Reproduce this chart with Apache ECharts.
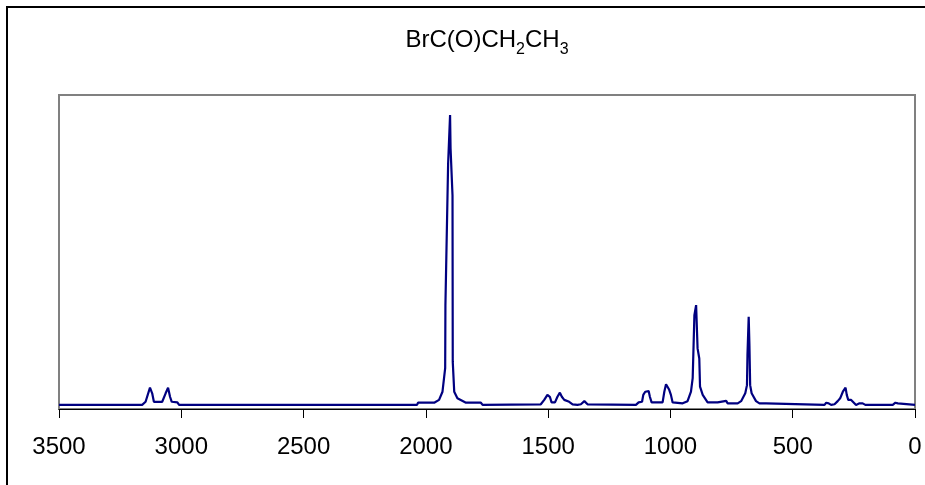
<!DOCTYPE html>
<html>
<head>
<meta charset="utf-8">
<script src="https://cdn.jsdelivr.net/npm/echarts@6/dist/echarts.min.js"></script>
<style>
  html, body { margin: 0; padding: 0; background: #fff; }
  #chart { width: 925px; height: 485px; }
</style>
</head>
<body>
<div id="chart"></div>
<script>
// IR spectrum of propionyl bromide, BrC(O)CH2CH3
const wavenumbers = [
  3500, 3160, 3146, 3128, 3119, 3112, 3078, 3064, 3054, 3046, 3039, 3016, 3009,
  2036, 2032, 1966, 1946, 1932, 1925, 1921, 1920, 1909, 1901, 1899, 1891, 1890,
  1884, 1871, 1836, 1775, 1768,
  1530, 1516, 1503, 1498, 1493, 1486, 1472, 1462, 1452, 1444, 1434, 1414, 1400,
  1380, 1366, 1352, 1339, 1332,
  1141, 1130, 1116, 1111, 1103, 1089, 1084, 1077, 1032, 1025, 1018, 1012, 1005,
  998, 991, 950, 930, 916, 909, 902, 895, 891, 889, 882, 879, 868, 848,
  807, 803, 772, 766, 725, 711, 694, 687, 685, 680, 677, 674, 668, 650, 636,
  609, 602,
  370, 363, 353, 343, 329, 316, 306, 295, 284, 279, 273, 261, 241, 227, 214,
  203, 91, 80, 70, 63, 0
];
const intensity = [
  1.3, 1.3, 2.3, 6.8, 5.0, 2.3, 2.3, 5.0, 6.8, 3.9, 2.3, 2.1, 1.3,
  1.3, 2.0, 2.0, 2.9, 5.5, 10.3, 13.0, 33.0, 78.0, 93.6, 83.0, 68.0, 15.0,
  5.5, 3.4, 2.0, 2.0, 1.3,
  1.5, 2.9, 4.5, 4.7, 3.9, 2.1, 2.1, 3.9, 5.2, 3.9, 2.9, 2.3, 1.5,
  1.3, 1.5, 2.5, 1.5, 1.3,
  1.3, 2.1, 2.3, 4.5, 5.5, 5.7, 3.9, 2.1, 2.1, 5.5, 7.9, 7.1, 6.1,
  4.5, 2.1, 1.8, 2.5, 5.5, 9.8, 29.9, 33.1, 33.1, 19.3, 16.1, 7.1, 4.5, 2.1,
  2.1, 2.6, 2.6, 1.8, 1.8, 2.5, 5.0, 7.6, 17.2, 29.4, 20.4, 7.6, 5.0, 2.5, 1.8,
  1.8, 1.3,
  1.3, 2.0, 1.8, 1.3, 1.5, 2.5, 3.4, 5.5, 6.8, 4.5, 2.9, 2.9, 1.3, 1.8, 1.8,
  1.3, 1.3, 2.0, 1.8, 1.3, 1.3
];
const xTicks = { min: 0, max: 3500, step: 500 };

const chart = echarts.init(document.getElementById('chart'), null, { renderer: 'canvas' });
const font = 'Liberation Sans, Arial, sans-serif';

chart.setOption({
  animation: false,
  backgroundColor: '#ffffff',
  title: {
    text: '{a|BrC(O)CH}{s|2}{a|CH}{s|3}',
    left: 487,
    top: 28,
    padding: 0,
    textAlign: 'center',
    textStyle: {
      fontWeight: 'normal',
      rich: {
        a: { fontFamily: font, fontSize: 24, fontWeight: 'normal', color: '#000', lineHeight: 24, verticalAlign: 'top' },
        s: { fontFamily: font, fontSize: 16, fontWeight: 'normal', color: '#000', padding: [14, 0, 0, 0], verticalAlign: 'top' }
      }
    }
  },
  graphic: [{
    type: 'rect',
    shape: { x: 7, y: 7, width: 940, height: 500 },
    style: { fill: 'none', stroke: '#000', lineWidth: 2 },
    silent: true
  }],
  grid: {
    left: 59, right: 10, top: 95, bottom: 76,
    show: true,
    borderColor: '#808080',
    borderWidth: 2,
    backgroundColor: 'transparent'
  },
  xAxis: {
    type: 'value',
    inverse: true,
    min: xTicks.min,
    max: xTicks.max,
    interval: xTicks.step,
    splitLine: { show: false },
    axisLine: { show: true, onZero: false, lineStyle: { color: '#000', width: 1 } },
    axisTick: { show: true, inside: false, length: 9, lineStyle: { color: '#000', width: 1 } },
    axisLabel: {
      fontFamily: font, fontSize: 24, color: '#000', margin: 26,
      formatter: (v) => String(v)
    }
  },
  yAxis: {
    type: 'value',
    min: 0,
    max: 100,
    show: false
  },
  series: [{
    type: 'line',
    data: wavenumbers.map((w, i) => [w, intensity[i]]),
    showSymbol: false,
    symbol: 'none',
    lineStyle: { color: '#000080', width: 2.2 },
    silent: true
  }]
});
</script>
</body>
</html>
